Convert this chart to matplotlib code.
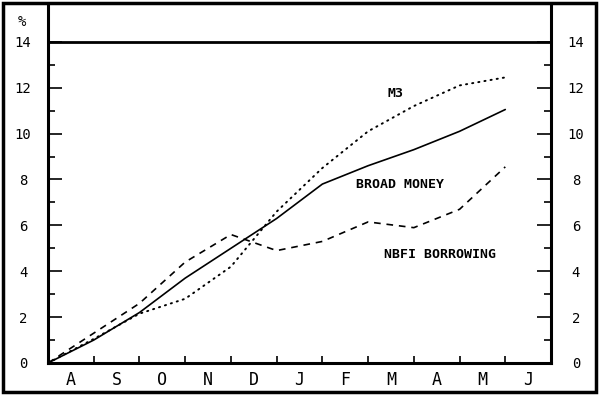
import matplotlib.pyplot as plt
from matplotlib.patches import Rectangle

# month boundaries: 0 = start of Aug ... 10 = end of May
months = ['A', 'S', 'O', 'N', 'D', 'J', 'F', 'M', 'A', 'M', 'J']
xpts = [0, 1, 2, 3, 4, 5, 6, 7, 8, 9, 10]
broad_money = [0, 1.0, 2.2, 3.7, 5.0, 6.3, 7.8, 8.6, 9.3, 10.1, 11.05]
m3 = [0, 1.05, 2.15, 2.8, 4.2, 6.6, 8.5, 10.1, 11.2, 12.1, 12.45]
nbfi = [0, 1.3, 2.6, 4.4, 5.6, 4.9, 5.3, 6.15, 5.9, 6.7, 8.55]
yticks = [0, 2, 4, 6, 8, 10, 12, 14]

mono = 'DejaVu Sans Mono'
fig = plt.figure(figsize=(6, 3.96), dpi=100)
ax = fig.add_axes([48 / 600, 33 / 396, 503 / 600, 359 / 396])

ax.plot(xpts, broad_money, color='black', lw=1.2, solid_capstyle='round')
ax.plot(xpts, m3, color='black', lw=1.4, linestyle=(0, (0.6, 2.6)), dash_capstyle='round')
ax.plot(xpts, nbfi, color='black', lw=1.2, linestyle=(0, (4, 3.5)))
ax.axhline(14, color='black', lw=2)

ax.set_xlim(0, 11)
ax.set_ylim(0, 15.65)

for s in ['left', 'right', 'bottom']:
    ax.spines[s].set_linewidth(2.2)
ax.spines['top'].set_visible(False)

ax.set_xticks(range(1, 11))
ax.set_xticklabels([])
ax.set_xticks([i + 0.5 for i in range(11)], minor=True)
ax.set_xticklabels(months, minor=True, fontfamily=mono, fontsize=12)
ax.tick_params(axis='x', which='major', direction='in', length=5, width=1.2)
ax.tick_params(axis='x', which='minor', length=0, pad=6)

ax.set_yticks(yticks)
ax.set_yticklabels([str(v) for v in yticks], fontfamily=mono, fontsize=10)
ax.set_yticks(range(1, 14, 2), minor=True)
ax.tick_params(axis='y', which='major', direction='in', length=10, width=1.2,
               left=True, right=True, labelleft=True, labelright=True, pad=18)
ax.tick_params(axis='y', which='minor', direction='in', length=5, width=1.2,
               left=True, right=True)
for lab in ax.get_yticklabels():
    lab.set_horizontalalignment('center')

ax.text(-0.57, 14.85, '%', fontfamily=mono, fontsize=10, ha='center', va='center', clip_on=False)

ax.text(7.6, 11.75, 'M3', fontfamily=mono, fontsize=9.5, fontweight='bold', ha='center', va='center')
ax.text(7.7, 7.8, 'BROAD MONEY', fontfamily=mono, fontsize=9.5, fontweight='bold', ha='center', va='center')
ax.text(8.57, 4.75, 'NBFI BORROWING', fontfamily=mono, fontsize=9.5, fontweight='bold', ha='center', va='center')

fig.patches.append(Rectangle((3 / 600, 4 / 396), 593 / 600, 389 / 396, transform=fig.transFigure,
                             fill=False, edgecolor='black', lw=2.5))

fig.savefig('out.png', dpi=100)
